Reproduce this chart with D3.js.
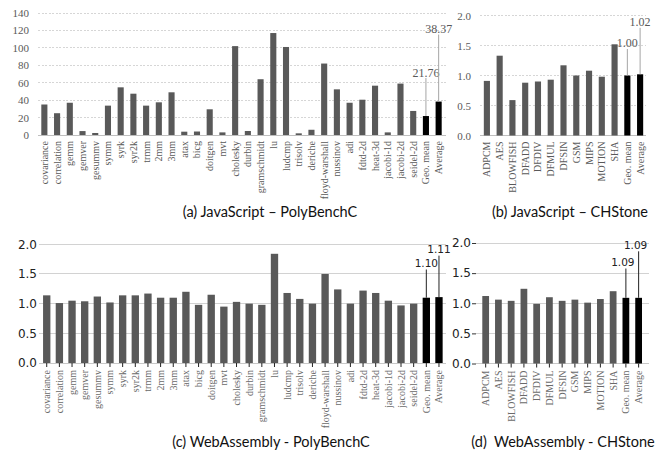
<!DOCTYPE html>
<html>
<head>
<meta charset="utf-8">
<script src="https://cdn.jsdelivr.net/npm/d3@7"></script>
<style>
  html, body { margin: 0; padding: 0; background: #fff; }
  svg { display: block; }
</style>
</head>
<body>
<svg id="chart" width="667" height="456"></svg>
<script>
// ---------------- DATA ----------------
const polyCategories = ["covariance", "correlation", "gemm", "gemver", "gesummv", "symm", "syrk", "syr2k", "trmm", "2mm", "3mm", "atax", "bicg", "doitgen", "mvt", "cholesky", "durbin", "gramschmidt", "lu", "ludcmp", "trisolv", "deriche", "floyd-warshall", "nussinov", "adi", "fdtd-2d", "heat-3d", "jacobi-1d", "jacobi-2d", "seidel-2d", "Geo. mean", "Average"];
const chstoneCategories = ["ADPCM", "AES", "BLOWFISH", "DFADD", "DFDIV", "DFMUL", "DFSIN", "GSM", "MIPS", "MOTION", "SHA", "Geo. mean", "Average"];

const jsPolyValues = [35, 25, 37, 4.5, 2.3, 33.7, 54.7, 47.4, 33.7, 37.5, 49, 3.8, 4, 29.5, 3, 102, 4.6, 64, 117, 101, 1.9, 6, 82, 52.4, 37, 40.5, 56.6, 3, 59, 27.6, 21.76, 38.37];
const jsChstoneValues = [0.91, 1.33, 0.59, 0.88, 0.90, 0.93, 1.17, 1.00, 1.08, 0.98, 1.52, 1.00, 1.02];
const wasmPolyValues = [1.14, 1.01, 1.05, 1.04, 1.12, 1.02, 1.14, 1.14, 1.17, 1.10, 1.10, 1.20, 0.98, 1.15, 0.95, 1.03, 1.00, 0.98, 1.84, 1.18, 1.08, 1.00, 1.50, 1.24, 1.00, 1.22, 1.18, 1.05, 0.97, 1.00, 1.10, 1.11];
const wasmChstoneValues = [1.12, 1.06, 1.04, 1.24, 0.99, 1.10, 1.04, 1.06, 1.01, 1.07, 1.20, 1.09, 1.09];

const jsPolyTicks = [0, 20, 40, 60, 80, 100, 120, 140];
const ratioTicks = [0, 0.5, 1.0, 1.5, 2.0];

const captions = ["(a) JavaScript \u2013 PolyBenchC", "(b) JavaScript \u2013 CHStone", "(c) WebAssembly - PolyBenchC", "(d)  WebAssembly - CHStone"];
const summaryNames = ["Geo. mean", "Average"];

// ---------------- DRAW ----------------
const svg = d3.select("#chart");
svg.append("rect").attr("width", 667).attr("height", 456).attr("fill", "#fff");

function panel(cfg) {
  const g = svg.append("g");
  const data = cfg.cats.map((c, i) => ({ cat: c, val: cfg.vals[i] }));
  const x = d3.scaleBand().domain(cfg.cats).range(cfg.xr).paddingInner(cfg.pad).paddingOuter(cfg.pad / 2);
  const y = d3.scaleLinear().domain([0, d3.max(cfg.ticks)]).range(cfg.yr);

  // gridlines
  g.append("g").selectAll("line").data(cfg.ticks.slice(1)).join("line")
    .attr("x1", cfg.gx[0]).attr("x2", cfg.gx[1])
    .attr("y1", d => y(d)).attr("y2", d => y(d))
    .attr("stroke", cfg.excel ? "#d6d6d6" : "#d2d2d2")
    .attr("stroke-width", 1)
    .attr("stroke-dasharray", cfg.excel ? "2,1.5" : null)
    .attr("shape-rendering", "crispEdges");
  // baseline
  g.append("line").attr("x1", cfg.gx[0]).attr("x2", cfg.gx[1])
    .attr("y1", y(0)).attr("y2", y(0))
    .attr("stroke", cfg.excel ? "#bfbfbf" : "#c8c8c8").attr("shape-rendering", "crispEdges");

  // y axis
  const yAxis = d3.axisLeft(y).tickValues(cfg.ticks)
    .tickFormat(cfg.yfmt).tickSize(cfg.yTick).tickPadding(cfg.yPad);
  const ya = g.append("g").attr("transform", `translate(${cfg.yAxisX},0)`).call(yAxis);
  ya.select(".domain").remove();
  ya.selectAll(".tick line").attr("stroke", "#333");
  ya.selectAll("text")
    .attr("font-family", cfg.excel ? "'Liberation Serif', serif" : "'DejaVu Sans', sans-serif")
    .attr("font-size", cfg.excel ? 11 : 12)
    .attr("fill", cfg.excel ? "#595959" : "#222");

  // bars
  g.append("g").selectAll("rect").data(data).join("rect")
    .attr("x", d => x(d.cat)).attr("width", x.bandwidth())
    .attr("y", d => y(d.val)).attr("height", d => y(0) - y(d.val))
    .attr("fill", d => summaryNames.includes(d.cat) ? "#000" : "#595959");

  // x axis
  const xAxis = d3.axisBottom(x).tickSize(cfg.xTick).tickPadding(cfg.xPad);
  const xa = g.append("g").attr("transform", `translate(0,${y(0)})`).call(xAxis);
  xa.select(".domain").remove();
  xa.selectAll(".tick line").attr("stroke", "#222");
  xa.selectAll("text")
    .attr("font-family", "'Liberation Serif', serif")
    .attr("font-size", 10)
    .attr("fill", cfg.excel ? "#595959" : "#6a6a6a")
    .attr("text-anchor", "end")
    .attr("transform", "rotate(-90)")
    .attr("x", -(cfg.xTick + cfg.xPad))
    .attr("y", 0)
    .attr("dy", "0.35em");

  // data labels with leader lines
  const summary = data.filter(d => summaryNames.includes(d.cat));
  summary.forEach((d, i) => {
    const cx = x(d.cat) + x.bandwidth() / 2;
    const top = y(d.val);
    const ly = top - cfg.labelOffsets[i];
    g.append("line").attr("x1", cx).attr("x2", cx)
      .attr("y1", ly + cfg.lineGap).attr("y2", top)
      .attr("stroke", cfg.excel ? "#a6a6a6" : "#222").attr("stroke-width", 1);
    g.append("text").attr("x", cx + (cfg.labelDx ? cfg.labelDx[i] : 0)).attr("y", ly)
      .attr("dy", "0.35em").attr("text-anchor", "middle")
      .attr("font-family", cfg.excel ? "'Liberation Serif', serif" : "'DejaVu Sans', sans-serif")
      .attr("font-size", cfg.excel ? 12 : 10.5)
      .attr("fill", cfg.excel ? "#595959" : "#222")
      .text(d3.format(".2f")(d.val));
  });

  // caption
  g.append("text").attr("x", cfg.cap[0]).attr("y", cfg.cap[1])
    .attr("text-anchor", "middle").attr("dy", "0.35em")
    .attr("font-family", "Lato, 'Open Sans', sans-serif").attr("font-size", 14.5)
    .attr("fill", "#111")
    .style("white-space", "pre")
    .text(cfg.caption);
}

panel({
  cats: polyCategories, vals: jsPolyValues, ticks: jsPolyTicks, excel: true,
  xr: [38, 445], gx: [38, 446], yr: [135, 13], pad: 0.52,
  yAxisX: 38, yTick: 0, yPad: 9, yfmt: d3.format("d"),
  xTick: 0, xPad: 6, labelOffsets: [43.5, 72.5], lineGap: 5.5,
  cap: [270, 212], caption: captions[0]
});
panel({
  cats: chstoneCategories, vals: jsChstoneValues, ticks: ratioTicks, excel: true,
  xr: [480.5, 646.5], gx: [480, 646], yr: [135.5, 15.5], pad: 0.52,
  yAxisX: 480, yTick: 0, yPad: 9, yfmt: d3.format(".1f"),
  xTick: 0, xPad: 6, labelOffsets: [33, 53], lineGap: 6.5,
  cap: [570, 212], caption: captions[1]
});
panel({
  cats: polyCategories, vals: wasmPolyValues, ticks: ratioTicks, excel: false,
  xr: [40.4, 445.3], gx: [39, 446], yr: [363, 244.3], pad: 0.42,
  yAxisX: 39, yTick: 0, yPad: 2, yfmt: d3.format(".1f"),
  xTick: 4, xPad: 3, labelOffsets: [34.7, 48], lineGap: 6.5,
  cap: [271, 442], caption: captions[2]
});
panel({
  cats: chstoneCategories, vals: wasmChstoneValues, ticks: ratioTicks, excel: false,
  xr: [479.3, 645], gx: [476, 649], yr: [363.5, 243], pad: 0.47,
  yAxisX: 476, yTick: 4, yPad: 1, yfmt: d3.format(".1f"),
  xTick: 4, xPad: 3, labelOffsets: [35.8, 53], lineGap: 6.5,
  labelDx: [-3, -3],
  cap: [563, 442], caption: captions[3]
});
</script>
</body>
</html>
